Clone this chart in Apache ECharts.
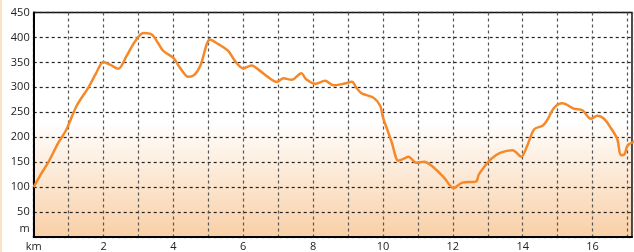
<!DOCTYPE html>
<html>
<head>
<meta charset="utf-8">
<script src="https://cdn.jsdelivr.net/npm/echarts@6/dist/echarts.min.js"></script>
<style>
  html, body { margin: 0; padding: 0; background: #fff; }
  #chart-container { width: 634px; height: 252px; }
</style>
</head>
<body>
<div id="chart-container"></div>
<script>
// distance along the route (km) and elevation (m)
var distances = [0, 0.2, 0.42, 0.7, 0.94, 1.23, 1.56, 1.8, 1.99, 2.2, 2.42, 2.66, 2.9, 3.14, 3.38, 3.55, 3.71,
    4.0, 4.2, 4.43, 4.6, 4.78, 5.05, 5.3, 5.57, 5.76, 6.0, 6.24, 6.48, 6.7, 6.96, 7.15, 7.39, 7.6, 7.67, 7.8,
    8.06, 8.34, 8.58, 8.87, 9.11, 9.25, 9.39, 9.73, 9.92, 10.0, 10.15, 10.25, 10.44, 10.6, 10.73, 10.95, 11.18,
    11.46, 11.75, 12.02, 12.27, 12.66, 12.75, 13.09, 13.37, 13.71, 13.96, 14.13, 14.33, 14.57, 14.7, 14.9,
    15.14, 15.47, 15.71, 15.95, 16.14, 16.33, 16.52, 16.71, 16.81, 16.92, 17.0, 17.19];
var elevations = [100, 125, 150, 188, 216, 263, 299, 330, 351, 345, 337, 363, 392, 409, 406, 390, 373,
    359, 338, 321, 325, 345, 396, 386, 373, 353, 338, 344, 333, 321, 311, 318, 315, 326, 328, 316,
    307, 313, 304, 307, 311, 298, 288, 279, 263, 240, 210, 190, 153, 157, 161, 149, 151,
    139, 119, 98, 109, 111, 126, 156, 169, 174, 161, 183, 216, 223, 234, 259,
    268, 257, 254, 237, 243, 237, 219, 196, 164, 166, 183, 191];
var yTicks = [0, 50, 100, 150, 200, 250, 300, 350, 400, 450];
var xLabels = [2, 4, 6, 8, 10, 12, 14, 16];

var myChart = echarts.init(document.getElementById('chart-container'));

var points = [];
for (var i = 0; i < distances.length; i++) {
    points.push([distances[i], elevations[i]]);
}

var dashed = function (color) {
    return { show: true, lineStyle: { color: color, width: 1.2, type: [3, 3] } };
};

var option = {
    animation: false,
    backgroundColor: '#fff',
    textStyle: { fontFamily: 'Open Sans' },
    graphic: [{
        type: 'rect', left: 0, top: 0, shape: { width: 2, height: 252 },
        style: { fill: '#fde3c6' }, z: -1
    }],
    grid: {
        left: 33.7, right: 2, top: 12.5, bottom: 14,
        show: true,
        borderColor: '#111',
        borderWidth: 1.5,
        backgroundColor: {
            type: 'linear', x: 0, y: 0, x2: 0, y2: 1,
            colorStops: [
                { offset: 0, color: '#ffffff' },
                { offset: 0.48, color: '#ffffff' },
                { offset: 1, color: '#f9cfa6' }
            ]
        }
    },
    xAxis: {
        type: 'value',
        min: 0,
        max: 17.13,
        interval: 1,
        axisLine: { show: true, onZero: false, lineStyle: { color: '#000', width: 2 } },
        axisTick: { show: false },
        axisLabel: {
            margin: 4, color: '#222', fontSize: 11, showMaxLabel: false,
            formatter: function (v) {
                if (v === 0) return 'km';
                return xLabels.indexOf(v) >= 0 ? String(v) : '';
            }
        },
        splitLine: dashed('#555')
    },
    yAxis: {
        type: 'value',
        min: yTicks[0],
        max: yTicks[yTicks.length - 1],
        interval: 50,
        axisLine: { show: true, lineStyle: { color: '#000', width: 2 } },
        axisTick: { show: false },
        axisLabel: {
            margin: 4, color: '#222', fontSize: 11,
            formatter: function (v) {
                return v === 0 ? '{u|m}' : String(v);
            },
            rich: { u: { fontSize: 11, color: '#222', padding: [0, 0, 16, 0] } }
        },
        splitLine: dashed('#222')
    },
    series: [{
        type: 'line',
        data: points,
        smooth: 0.3,
        symbol: 'none',
        clip: true,
        lineStyle: { color: '#f5892a', width: 2.5 }
    }]
};

myChart.setOption(option);
</script>
</body>
</html>
